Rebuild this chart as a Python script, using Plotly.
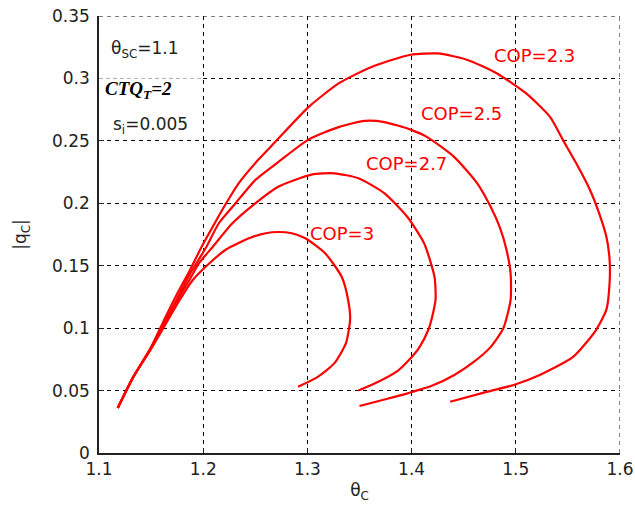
import plotly.graph_objects as go

# ---- data ----
cop_labels = ["COP=2.3", "COP=2.5", "COP=2.7", "COP=3"]

x_cop23 = [1.118, 1.133, 1.149, 1.161, 1.174, 1.187, 1.199, 1.209, 1.222, 1.234, 1.253, 1.269,
           1.301, 1.330, 1.361, 1.399, 1.425, 1.453, 1.482, 1.510, 1.533, 1.545, 1.558, 1.571,
           1.580, 1.587, 1.590, 1.590, 1.587, 1.577, 1.555, 1.523, 1.498, 1.472, 1.437]
y_cop23 = [0.036, 0.061, 0.083, 0.104, 0.126, 0.146, 0.166, 0.181, 0.200, 0.216, 0.235, 0.249,
           0.277, 0.296, 0.309, 0.319, 0.320, 0.315, 0.304, 0.288, 0.269, 0.251, 0.232, 0.211,
           0.192, 0.173, 0.155, 0.136, 0.115, 0.0985, 0.077, 0.0625, 0.0545, 0.049, 0.041]

x_cop25 = [1.118, 1.133, 1.149, 1.161, 1.174, 1.187, 1.203, 1.215, 1.231, 1.250, 1.272, 1.301,
           1.330, 1.355, 1.374, 1.399, 1.415, 1.441, 1.463, 1.476, 1.485, 1.491, 1.495, 1.495,
           1.488, 1.476, 1.459, 1.441, 1.420, 1.397, 1.375, 1.350]
y_cop25 = [0.036, 0.061, 0.083, 0.101, 0.122, 0.143, 0.165, 0.184, 0.200, 0.2186, 0.233, 0.251,
           0.261, 0.266, 0.265, 0.259, 0.253, 0.237, 0.216, 0.197, 0.180, 0.163, 0.144, 0.1225,
           0.0999, 0.085, 0.0725, 0.0625, 0.054, 0.048, 0.043, 0.0376]

x_cop27 = [1.118, 1.133, 1.149, 1.161, 1.174, 1.187, 1.196, 1.209, 1.228, 1.250, 1.272, 1.304,
           1.326, 1.349, 1.374, 1.396, 1.412, 1.422, 1.423, 1.420, 1.416, 1.407, 1.397, 1.387,
           1.368, 1.349]
y_cop27 = [0.036, 0.061, 0.083, 0.101, 0.121, 0.139, 0.152, 0.165, 0.184, 0.200, 0.2133, 0.223,
           0.224, 0.220, 0.208, 0.189, 0.168, 0.141, 0.123, 0.110, 0.0985, 0.084, 0.074, 0.066,
           0.057, 0.050]

x_cop3 = [1.118, 1.133, 1.149, 1.161, 1.177, 1.190, 1.206, 1.222, 1.244, 1.260, 1.272, 1.285,
          1.298, 1.317, 1.333, 1.339, 1.341, 1.337, 1.326, 1.310, 1.291]
y_cop3 = [0.036, 0.061, 0.082, 0.099, 0.122, 0.1386, 0.152, 0.163, 0.172, 0.176, 0.177, 0.176,
          0.172, 0.160, 0.141, 0.123, 0.107, 0.088, 0.072, 0.061, 0.053]

label_x = [1.477, 1.4067, 1.354, 1.301]
label_y = [0.318, 0.272, 0.232, 0.176]

x_ticks = [1.1, 1.2, 1.3, 1.4, 1.5, 1.6]
y_ticks = [0, 0.05, 0.1, 0.15, 0.2, 0.25, 0.3, 0.35]
y_tick_text = ["0", "0.05", "0.1", "0.15", "0.2", "0.25", "0.3", "0.35"]

series = [(x_cop23, y_cop23), (x_cop25, y_cop25), (x_cop27, y_cop27), (x_cop3, y_cop3)]

SANS = "DejaVu Sans, Arial, sans-serif"

fig = go.Figure()
for (xs, ys), name in zip(series, cop_labels):
    fig.add_trace(go.Scatter(x=xs, y=ys, mode="lines", name=name,
                             line=dict(color="#ff0000", width=2.2, shape="spline", smoothing=0.6),
                             showlegend=False))

for txt, lx, ly in zip(cop_labels, label_x, label_y):
    fig.add_annotation(x=lx, y=ly, text=txt, showarrow=False, xanchor="left", yanchor="middle",
                       font=dict(family=SANS, size=18, color="#ff0000"))

# text block top-left
fig.add_annotation(x=1.1095, y=0.323, text="θ<sub>SC</sub>=1.1", showarrow=False,
                   xanchor="left", yanchor="middle",
                   font=dict(family=SANS, size=17, color="#222"))
fig.add_annotation(x=1.1040, y=0.2905, text="<b><i>CTQ<sub>T</sub>=2</i></b>", showarrow=False,
                   xanchor="left", yanchor="middle",
                   font=dict(family="Liberation Serif, Times New Roman, serif", size=19, color="#000"))
fig.add_annotation(x=1.1115, y=0.262, text="s<sub>i</sub>=0.005", showarrow=False,
                   xanchor="left", yanchor="middle",
                   font=dict(family=SANS, size=17, color="#222"))

# light line under the text box and dashed top/right frame
fig.add_shape(type="line", x0=1.1, x1=1.2, y0=0.3, y1=0.3, xref="x", yref="y",
              line=dict(color="white", width=2), layer="above")
fig.add_shape(type="line", x0=1.1, x1=1.2, y0=0.3, y1=0.3, xref="x", yref="y",
              line=dict(color="#b0b0b0", width=1, dash="4px,3px"), layer="above")
fig.add_shape(type="line", x0=1.1, x1=1.6, y0=0.35, y1=0.35, xref="x", yref="y",
              line=dict(color="black", width=1, dash="4px,4px"), layer="below")
fig.add_shape(type="line", x0=1.6, x1=1.6, y0=0, y1=0.35, xref="x", yref="y",
              line=dict(color="black", width=1, dash="4px,4px"), layer="below")

axis_font = dict(family=SANS, size=17, color="#222")
fig.update_xaxes(range=[1.1, 1.6], tickvals=x_ticks, ticktext=[str(v) for v in x_ticks],
                 showgrid=True, gridcolor="black", gridwidth=1, griddash="4px,4px",
                 showline=True, linecolor="#222", linewidth=1.5, mirror=False,
                 ticks="inside", ticklen=5, tickcolor="#222", tickfont=axis_font,
                 ticklabeloverflow="allow", zeroline=False,
                 title=dict(text="θ<sub>C</sub>", font=axis_font, standoff=6))
fig.update_yaxes(range=[0, 0.35], tickvals=y_ticks, ticktext=y_tick_text,
                 showgrid=True, gridcolor="black", gridwidth=1, griddash="4px,4px",
                 showline=True, linecolor="#222", linewidth=1.5, mirror=False,
                 ticks="inside", ticklen=5, tickcolor="#222", tickfont=axis_font,
                 ticklabelstandoff=4, ticklabeloverflow="allow", zeroline=False,
                 title=dict(text="|q<sub>C</sub>|", font=axis_font, standoff=21))

fig.update_layout(width=635, height=513, margin=dict(l=99, r=15, t=16, b=60, autoexpand=False),
                  paper_bgcolor="white", plot_bgcolor="white")

fig.write_html("out.html", config={"displayModeBar": False},
               post_script="document.body.style.margin='0px';")
